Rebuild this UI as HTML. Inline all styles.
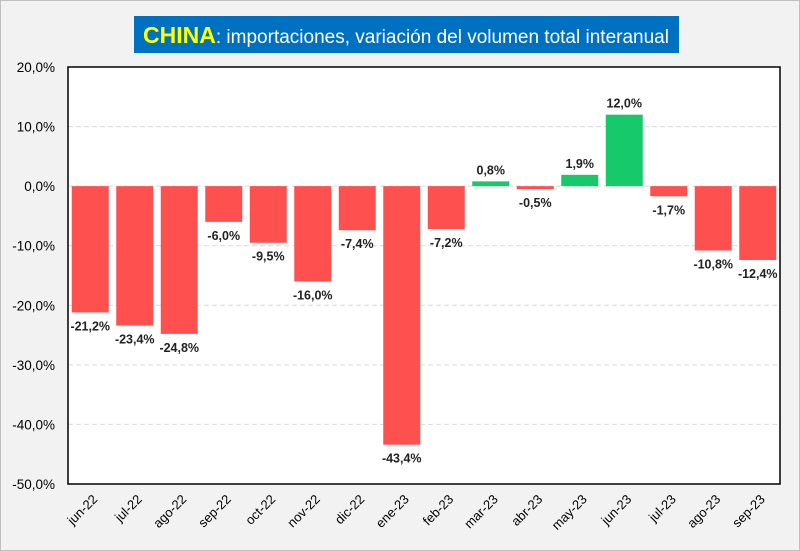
<!DOCTYPE html>
<html><head><meta charset="utf-8"><style>
body{margin:0;width:800px;height:551px;overflow:hidden;background:#f2f2f2;font-family:"Liberation Sans",Arial,sans-serif}
</style></head><body>
<svg width="800" height="551" style="position:absolute;left:0;top:0">
<rect x="0.5" y="0.5" width="799" height="550" fill="#f2f2f2" stroke="#bfbfbf"/>
<rect x="134" y="16" width="545" height="37" fill="#0070c0"/>
<text x="406" y="43" text-anchor="middle" font-size="19" fill="#fff"><tspan fill="#ffff00" font-weight="bold" font-size="23">CHINA</tspan>: importaciones, variación del volumen total interanual</text>
<rect x="68" y="67" width="712" height="417" fill="#fff"/>
<g id="grid"></g><g id="bars"></g><g id="labels"></g><g id="axes"></g>
</svg>
<script>
const categories=["jun-22","jul-22","ago-22","sep-22","oct-22","nov-22","dic-22","ene-23","feb-23","mar-23","abr-23","may-23","jun-23","jul-23","ago-23","sep-23"];
const values=[-21.2,-23.4,-24.8,-6.0,-9.5,-16.0,-7.4,-43.4,-7.2,0.8,-0.5,1.9,12.0,-1.7,-10.8,-12.4];
const ticks=[20,10,0,-10,-20,-30,-40,-50];
const NS="http://www.w3.org/2000/svg";
const x0=68,x1=780,yTop=67,yBot=484,vMax=20,vMin=-50;
const y=v=>yTop+(vMax-v)/(vMax-vMin)*(yBot-yTop);
const step=(x1-x0)/categories.length;
const xc=i=>x0+step*(i+0.5);
const fmt=v=>v.toFixed(1).replace('.',',')+'%';
function mk(tag,attrs,parent){const e=document.createElementNS(NS,tag);for(const k in attrs)e.setAttribute(k,attrs[k]);document.getElementById(parent).appendChild(e);return e;}
ticks.forEach(t=>{
 if(t!==vMin&&t!==vMax){const g=mk('line',{x1:x0,x2:x1,y1:y(t),y2:y(t),stroke:'#d9d9d9','stroke-dasharray':'5,3'},'grid');
 
 }
 const l=mk('text',{x:55,y:y(t)+5,'text-anchor':'end','font-size':'13.5',fill:'#000'},'axes');
 l.textContent=t.toFixed(1).replace('.',',')+'%';
 
 
});
values.forEach((v,i)=>{
 const yy=Math.min(y(v),y(0)),h=Math.abs(y(v)-y(0));
 const b=mk('rect',{x:xc(i)-18.5,y:yy,width:37,height:h,fill:v>=0?'#16c96a':'#ff5050'},'bars');
 
 
 const t=mk('text',{x:xc(i),y:v>=0?y(v)-7:y(v)+18,'text-anchor':'middle','font-size':'12.5','font-weight':'bold',fill:'#222'},'labels');
 t.textContent=fmt(v);
 
 
 const c=mk('text',{x:xc(i)+8,y:500,'text-anchor':'end','font-size':'13',fill:'#000',transform:`rotate(-45 ${xc(i)+8} 500)`},'axes');
 c.textContent=categories[i];
 
 
});
const box=mk('rect',{x:x0,y:yTop,width:x1-x0,height:yBot-yTop,fill:'none',stroke:'#000','stroke-width':1.5},'axes');


</script>
</body></html>
